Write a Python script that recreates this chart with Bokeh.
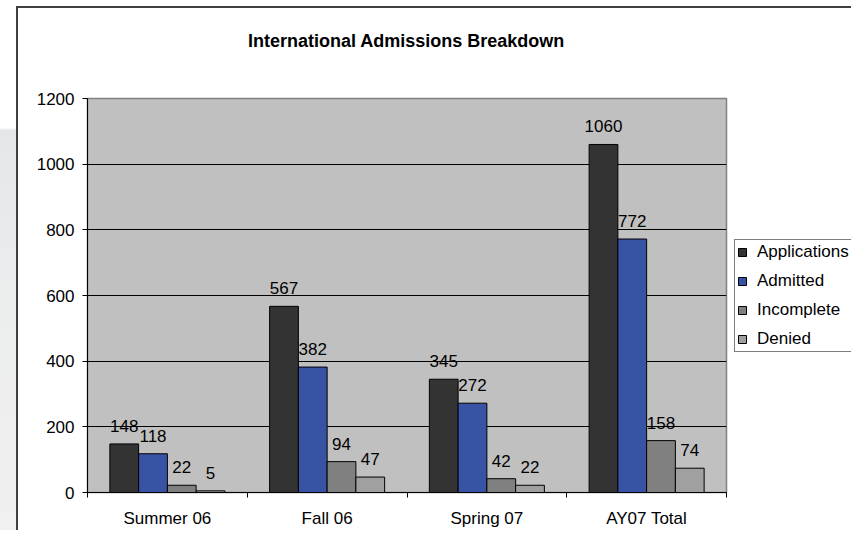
from bokeh.plotting import figure
from bokeh.models import (ColumnDataSource, Range1d, FixedTicker, Legend, LegendItem,
                          LabelSet, Label, Spacer)
from bokeh.layouts import row, column
from bokeh.core.properties import value
from bokeh.embed import file_html
from bokeh.resources import INLINE

# ---- data ----
title_text = "International Admissions Breakdown"
categories = ["Summer 06", "Fall 06", "Spring 07", "AY07 Total"]
series_names = ["Applications", "Admitted", "Incomplete", "Denied"]
applications = [148, 567, 345, 1060]
admitted = [118, 382, 272, 772]
incomplete = [22, 94, 42, 158]
denied = [5, 47, 22, 74]
y_ticks = [0, 200, 400, 600, 800, 1000, 1200]

# ---- style ----
colors = ["#333333", "#3953A4", "#808080", "#A0A0A0"]
FONT = "Liberation Sans"
bar_w = 0.18
offsets = [-1.5, -0.5, 0.5, 1.5]


def blank(fig):
    fig.border_fill_color = "white"
    fig.background_fill_color = "white"
    fig.outline_line_color = None
    fig.grid.visible = False
    return fig


# ---- title strip ----
pt = blank(figure(width=833, height=80, output_backend="svg", toolbar_location=None,
                  x_axis_location=None, y_axis_location=None,
                  min_border_left=0, min_border_right=0, min_border_top=0,
                  min_border_bottom=0))
pt.add_layout(Label(x=388, y=48, x_units="screen", y_units="screen", text=title_text,
                    text_align="center", text_baseline="alphabetic", text_font=FONT,
                    text_font_size="18px", text_font_style="bold", text_color="black"))

# ---- main chart ----
p = figure(width=710, height=442, output_backend="svg", toolbar_location=None,
           x_range=Range1d(0, len(categories)), y_range=Range1d(y_ticks[0], y_ticks[-1]),
           min_border_left=69, min_border_right=2, min_border_top=10,
           min_border_bottom=35)
p.background_fill_color = "#C0C0C0"
p.border_fill_color = "white"
p.outline_line_color = "#808080"
p.outline_line_width = 1.5

centers = [i + 0.5 for i in range(len(categories))]
series = [applications, admitted, incomplete, denied]
sources = []
for vals, color, k in zip(series, colors, offsets):
    src = ColumnDataSource(dict(x=[c + k * bar_w for c in centers], top=vals,
                                label=[str(v) for v in vals]))
    sources.append(src)
    p.vbar(x="x", top="top", width=bar_w, source=src, fill_color=color,
           line_color="black", line_width=1)
    p.add_layout(LabelSet(x="x", y="top", text="label", source=src, text_align="center",
                          text_baseline="alphabetic", y_offset=12, text_font=value(FONT),
                          text_font_size=value("17px"), text_color="black"))

# x axis: labels at category centres, tick marks at category boundaries
p.xaxis.ticker = FixedTicker(ticks=centers, minor_ticks=list(range(len(categories) + 1)))
p.xaxis.major_label_overrides = {c: cat for c, cat in zip(centers, categories)}
p.xaxis.major_tick_line_color = None
p.xaxis.minor_tick_in = 0
p.xaxis.minor_tick_out = 5
p.xaxis.minor_tick_line_color = "black"
p.xaxis.axis_line_color = "black"
p.xaxis.major_label_standoff = 10
p.xaxis.major_label_text_font = FONT
p.xaxis.major_label_text_font_size = "17px"
p.xaxis.major_label_text_color = "black"

p.yaxis.ticker = FixedTicker(ticks=y_ticks, minor_ticks=[])
p.yaxis.major_tick_in = 0
p.yaxis.major_tick_out = 5
p.yaxis.major_tick_line_color = "black"
p.yaxis.axis_line_color = "black"
p.yaxis.major_label_standoff = 8
p.yaxis.major_label_text_font = FONT
p.yaxis.major_label_text_font_size = "17px"
p.yaxis.major_label_text_color = "black"

p.xgrid.visible = False
p.ygrid.ticker = FixedTicker(ticks=y_ticks[1:-1])
p.ygrid.grid_line_color = "black"
p.ygrid.grid_line_width = 1

# ---- legend strip (same series, drawn out of view; only the legend shows) ----
pl = blank(figure(width=123, height=442, output_backend="svg", toolbar_location=None,
                  x_axis_location=None, y_axis_location=None,
                  x_range=Range1d(-20, -19), y_range=Range1d(y_ticks[0], y_ticks[-1]),
                  min_border_left=0, min_border_right=0, min_border_top=0,
                  min_border_bottom=0))
items = []
for name, color, src in zip(series_names, colors, sources):
    r = pl.vbar(x="x", top="top", width=bar_w, source=src, fill_color=color,
                line_color="black", line_width=1)
    items.append(LegendItem(label=name, renderers=[r]))
legend = Legend(items=items, location=(6, 140), border_line_color="black",
                border_line_width=1, background_fill_color="white", background_fill_alpha=1,
                label_text_font=FONT, label_text_font_size="17px", label_text_color="black",
                glyph_width=10, glyph_height=10, label_standoff=10, padding=2, spacing=9,
                label_height=20, margin=0)
pl.add_layout(legend, "center")

box = column(pt, row(p, pl), styles={"border-left": "2px solid #404040",
                                     "border-top": "2px solid #404040"})
side = Spacer(width=16, height=524, styles={
    "background": "linear-gradient(to bottom, #ffffff 0px, #ffffff 122px, #e5e6ea 124px, "
                  "#eceded 300px, #f0f0f0 100%)"})
layout = column(Spacer(width=851, height=6), row(side, box))
open("out.html", "w").write(file_html(layout, INLINE))
